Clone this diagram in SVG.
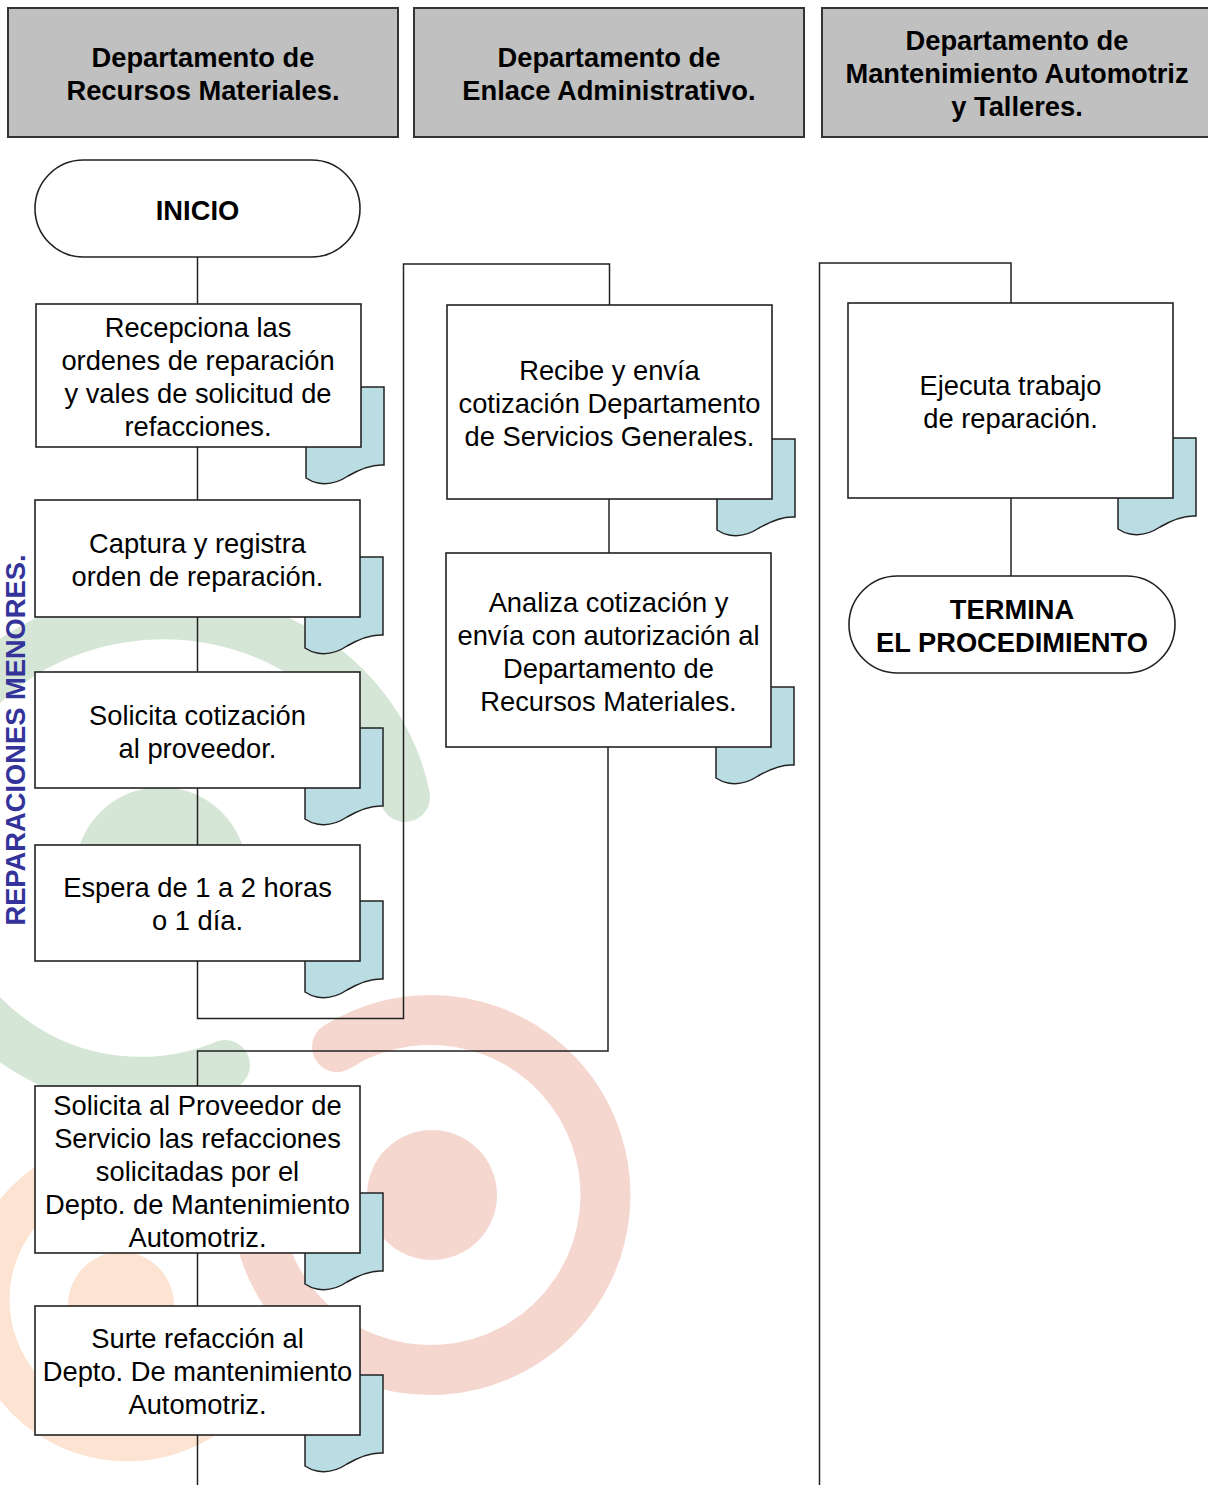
<svg xmlns="http://www.w3.org/2000/svg" xmlns:xlink="http://www.w3.org/1999/xlink" width="1208" height="1485" viewBox="0 0 1208 1485">
<style>
  text { font-family: "Liberation Sans", Arial, sans-serif; font-size: 27.3px; fill: #000; text-anchor: middle; }
  .b { font-weight: bold; }
  .hdr { fill: #c0c0c0; stroke: #333; stroke-width: 2; }
  .box { fill: #fff; stroke: #222; stroke-width: 1.6; }
  .term { fill: #fff; stroke: #222; stroke-width: 1.6; }
  .doc { fill: #badde3; stroke: #222; stroke-width: 1.5; }
  .conn { fill: none; stroke: #222; stroke-width: 1.5; }
  .wm { fill: none; stroke-linecap: round; }
  .lane { fill: #33339a; font-weight: bold; }
</style>
<defs>
  <path id="doc" d="M0,0 H78 V78 C66,77 54,82 42,89 C33,95 22,98 12,96 C6,95 3,93 0,91 Z"/>
</defs>
<rect width="1208" height="1485" fill="#fff"/>
<g id="watermark">
  <path class="wm" d="M405,797 A245,220 0 0 0 -79,873 A220,220 0 0 0 225,1065" stroke="#d6e6d6" stroke-width="50"/>
  <circle cx="161" cy="873" r="86" fill="#d6e6d6"/>
  <path class="wm" d="M337,1047 A175,175 0 1 1 258,1165" stroke="#f5d7d0" stroke-width="50"/>
  <circle cx="432" cy="1195" r="65" fill="#f5d7d0"/>
  <path class="wm" d="M149,1164 A138,138 0 0 0 -13,1300 A140,140 0 0 0 205,1415" stroke="#fde3d2" stroke-width="45"/>
  <circle cx="121" cy="1305" r="53" fill="#fde3d2"/>
</g>
<g id="lane-label">
  <text class="lane" transform="translate(25,740) rotate(-90)">REPARACIONES MENORES.</text>
</g>
<g id="headers">
  <g id="hdr-recursos">
    <rect class="hdr" x="8" y="8" width="390" height="129"/>
    <text class="b" x="203" y="67">Departamento de</text>
    <text class="b" x="203" y="100">Recursos Materiales.</text>
  </g>
  <g id="hdr-enlace">
    <rect class="hdr" x="414" y="8" width="390" height="129"/>
    <text class="b" x="609" y="67">Departamento de</text>
    <text class="b" x="609" y="100">Enlace Administrativo.</text>
  </g>
  <g id="hdr-mantenimiento">
    <rect class="hdr" x="822" y="8" width="392" height="129"/>
    <text class="b" x="1017" y="50">Departamento de</text>
    <text class="b" x="1017" y="83">Mantenimiento Automotriz</text>
    <text class="b" x="1017" y="116">y Talleres.</text>
  </g>
</g>
<g id="connectors">
  <path class="conn" d="M197.5,257 V304"/>
  <path class="conn" d="M197.5,447 V500"/>
  <path class="conn" d="M197.5,617 V672"/>
  <path class="conn" d="M197.5,788 V845"/>
  <path class="conn" d="M197.5,961 V1018.5 H403.5 V264 H609.5 V305"/>
  <path class="conn" d="M609,499 V553"/>
  <path class="conn" d="M608,747 V1051 H197.5 V1086"/>
  <path class="conn" d="M197.5,1253 V1306"/>
  <path class="conn" d="M197.5,1435 V1485"/>
  <path class="conn" d="M819.5,1485 V263 H1011 V303"/>
  <path class="conn" d="M1011,498 V576"/>
</g>
<g id="n-inicio">
  <rect class="term" x="35" y="160" width="325" height="97" rx="48.5" ry="48.5"/>
  <text class="b" x="197.5" y="220">INICIO</text>
</g>
<g id="n-recepciona">
  <use href="#doc" class="doc" x="306" y="387"/>
  <rect class="box" x="36" y="304" width="325" height="143"/>
  <text x="198" y="337">Recepciona las</text>
  <text x="198" y="369.5">ordenes de reparación</text>
  <text x="198" y="402.5">y vales de solicitud de</text>
  <text x="198" y="435.5">refacciones.</text>
</g>
<g id="n-captura">
  <use href="#doc" class="doc" x="305" y="557"/>
  <rect class="box" x="35" y="500" width="325" height="117"/>
  <text x="197.5" y="553">Captura y registra</text>
  <text x="197.5" y="586">orden de reparación.</text>
</g>
<g id="n-cotizacion">
  <use href="#doc" class="doc" x="305" y="728"/>
  <rect class="box" x="35" y="672" width="325" height="116"/>
  <text x="197.5" y="725">Solicita cotización</text>
  <text x="197.5" y="758">al proveedor.</text>
</g>
<g id="n-espera">
  <use href="#doc" class="doc" x="305" y="901"/>
  <rect class="box" x="35" y="845" width="325" height="116"/>
  <text x="197.5" y="897">Espera de 1 a 2 horas</text>
  <text x="197.5" y="930">o 1 día.</text>
</g>
<g id="n-recibe">
  <use href="#doc" class="doc" x="717" y="439"/>
  <rect class="box" x="447" y="305" width="325" height="194"/>
  <text x="609.5" y="380">Recibe y envía</text>
  <text x="609.5" y="413">cotización Departamento</text>
  <text x="609.5" y="446">de Servicios Generales.</text>
</g>
<g id="n-analiza">
  <use href="#doc" class="doc" x="716" y="687"/>
  <rect class="box" x="446" y="553" width="325" height="194"/>
  <text x="608.5" y="612">Analiza cotización y</text>
  <text x="608.5" y="645">envía con autorización al</text>
  <text x="608.5" y="678">Departamento de</text>
  <text x="608.5" y="711">Recursos Materiales.</text>
</g>
<g id="n-solicita-proveedor">
  <use href="#doc" class="doc" x="305" y="1193"/>
  <rect class="box" x="35" y="1086" width="325" height="167"/>
  <text x="197.5" y="1114.5">Solicita al Proveedor de</text>
  <text x="197.5" y="1147.5">Servicio las refacciones</text>
  <text x="197.5" y="1180.5">solicitadas por el</text>
  <text x="197.5" y="1213.5">Depto. de Mantenimiento</text>
  <text x="197.5" y="1246.5">Automotriz.</text>
</g>
<g id="n-surte">
  <use href="#doc" class="doc" x="305" y="1375"/>
  <rect class="box" x="35" y="1306" width="325" height="129"/>
  <text x="197.5" y="1348">Surte refacción al</text>
  <text x="197.5" y="1381">Depto. De mantenimiento</text>
  <text x="197.5" y="1414">Automotriz.</text>
</g>
<g id="n-ejecuta">
  <use href="#doc" class="doc" x="1118" y="438"/>
  <rect class="box" x="848" y="303" width="325" height="195"/>
  <text x="1010.5" y="395">Ejecuta trabajo</text>
  <text x="1010.5" y="428">de reparación.</text>
</g>
<g id="n-termina">
  <rect class="term" x="849" y="576" width="326" height="97" rx="48.5" ry="48.5"/>
  <text class="b" x="1012" y="619">TERMINA</text>
  <text class="b" x="1012" y="652">EL PROCEDIMIENTO</text>
</g>
</svg>
